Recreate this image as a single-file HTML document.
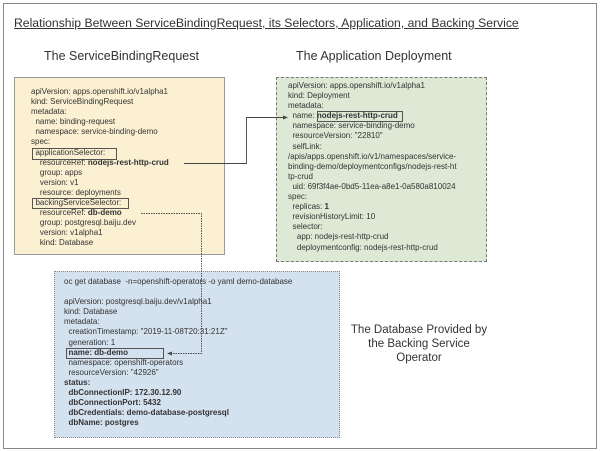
<!DOCTYPE html>
<html><head><style>
body{margin:0;width:600px;height:451px;background:#fff;position:relative;overflow:hidden;font-family:"Liberation Sans",sans-serif;color:#333}
.a{position:absolute}
.t{position:absolute;font-size:8px;line-height:10.1px;white-space:pre}
.box{position:absolute;box-sizing:border-box}
b{font-weight:bold}
</style></head><body>
<div class="box" style="left:3px;top:3px;width:594px;height:446px;border:1px solid #888"></div>
<div class="a" style="left:14px;top:16px;font-size:12.2px;text-decoration:underline;white-space:nowrap">Relationship Between ServiceBindingRequest, its Selectors, Application, and Backing Service</div>
<div class="a" style="left:44px;top:49px;font-size:12.5px;white-space:nowrap">The ServiceBindingRequest</div>
<div class="a" style="left:296px;top:49px;font-size:12.5px;white-space:nowrap">The Application Deployment</div>

<div class="box" style="left:14px;top:77px;width:211px;height:178px;background:#fbf0d2;border:1px solid #9a9a9a"></div>
<div class="box" style="left:276px;top:77px;width:211px;height:185px;background:#dde8d5;border:1px dashed #777"></div>
<div class="box" style="left:54px;top:271px;width:286px;height:167px;background:#d4e1ef;border:1px dotted #888"></div>

<div class="t" style="left:31px;top:87px">apiVersion: apps.openshift.io/v1alpha1
kind: ServiceBindingRequest
metadata:
  name: binding-request
  namespace: service-binding-demo
spec:
  applicationSelector:
    resourceRef: <b>nodejs-rest-http-crud</b>
    group: apps
    version: v1
    resource: deployments
  backingServiceSelector:
    resourceRef: <b>db-demo</b>
    group: postgresql.baiju.dev
    version: v1alpha1
    kind: Database</div>

<div class="t" style="left:288px;top:81px">apiVersion: apps.openshift.io/v1alpha1
kind: Deployment
metadata:
  name: <b>nodejs-rest-http-crud</b>
  namespace: service-binding-demo
  resourceVersion: "22810"
  selfLink:
/apis/apps.openshift.io/v1/namespaces/service-
binding-demo/deploymentconfigs/nodejs-rest-ht
tp-crud
  uid: 69f3f4ae-0bd5-11ea-a8e1-0a580a810024
spec:
  replicas: <b>1</b>
  revisionHistoryLimit: 10
  selector:
    app: nodejs-rest-http-crud
    deploymentconfig: nodejs-rest-http-crud</div>

<div class="t" style="left:64px;top:277px">oc get database  -n=openshift-operators -o yaml demo-database

apiVersion: postgresql.baiju.dev/v1alpha1
kind: Database
metadata:
  creationTimestamp: "2019-11-08T20:31:21Z"
  generation: 1
  <b>name: db-demo</b>
  namespace: openshift-operators
  resourceVersion: "42926"
<b>status:
  dbConnectionIP: 172.30.12.90
  dbConnectionPort: 5432
  dbCredentials: demo-database-postgresql
  dbName: postgres</b></div>

<div class="a" style="left:340px;top:323px;width:158px;text-align:center;font-size:11.5px;line-height:14px">The Database Provided by<br>the Backing Service<br>Operator</div>

<svg class="a" style="left:0;top:0" width="600" height="451">
<g fill="none" stroke="#444" stroke-width="0.9">
<rect x="32.5" y="148.5" width="84" height="11"/>
<rect x="32.5" y="198.5" width="96" height="10"/>
<rect x="317.5" y="111.5" width="85" height="10"/>
<rect x="66.5" y="348.5" width="97" height="10"/>
<polyline points="184,163.5 246.5,163.5 246.5,117.5 284,117.5"/>
<polyline points="141,213.5 201.5,213.5 201.5,353.5 171,353.5" stroke-dasharray="1.5,1"/>
</g>
<polygon points="288,117.5 283,115.5 283,119.5" fill="#444"/>
<polygon points="167,353.5 172,351.5 172,355.5" fill="#444"/>
</svg>
</body></html>
